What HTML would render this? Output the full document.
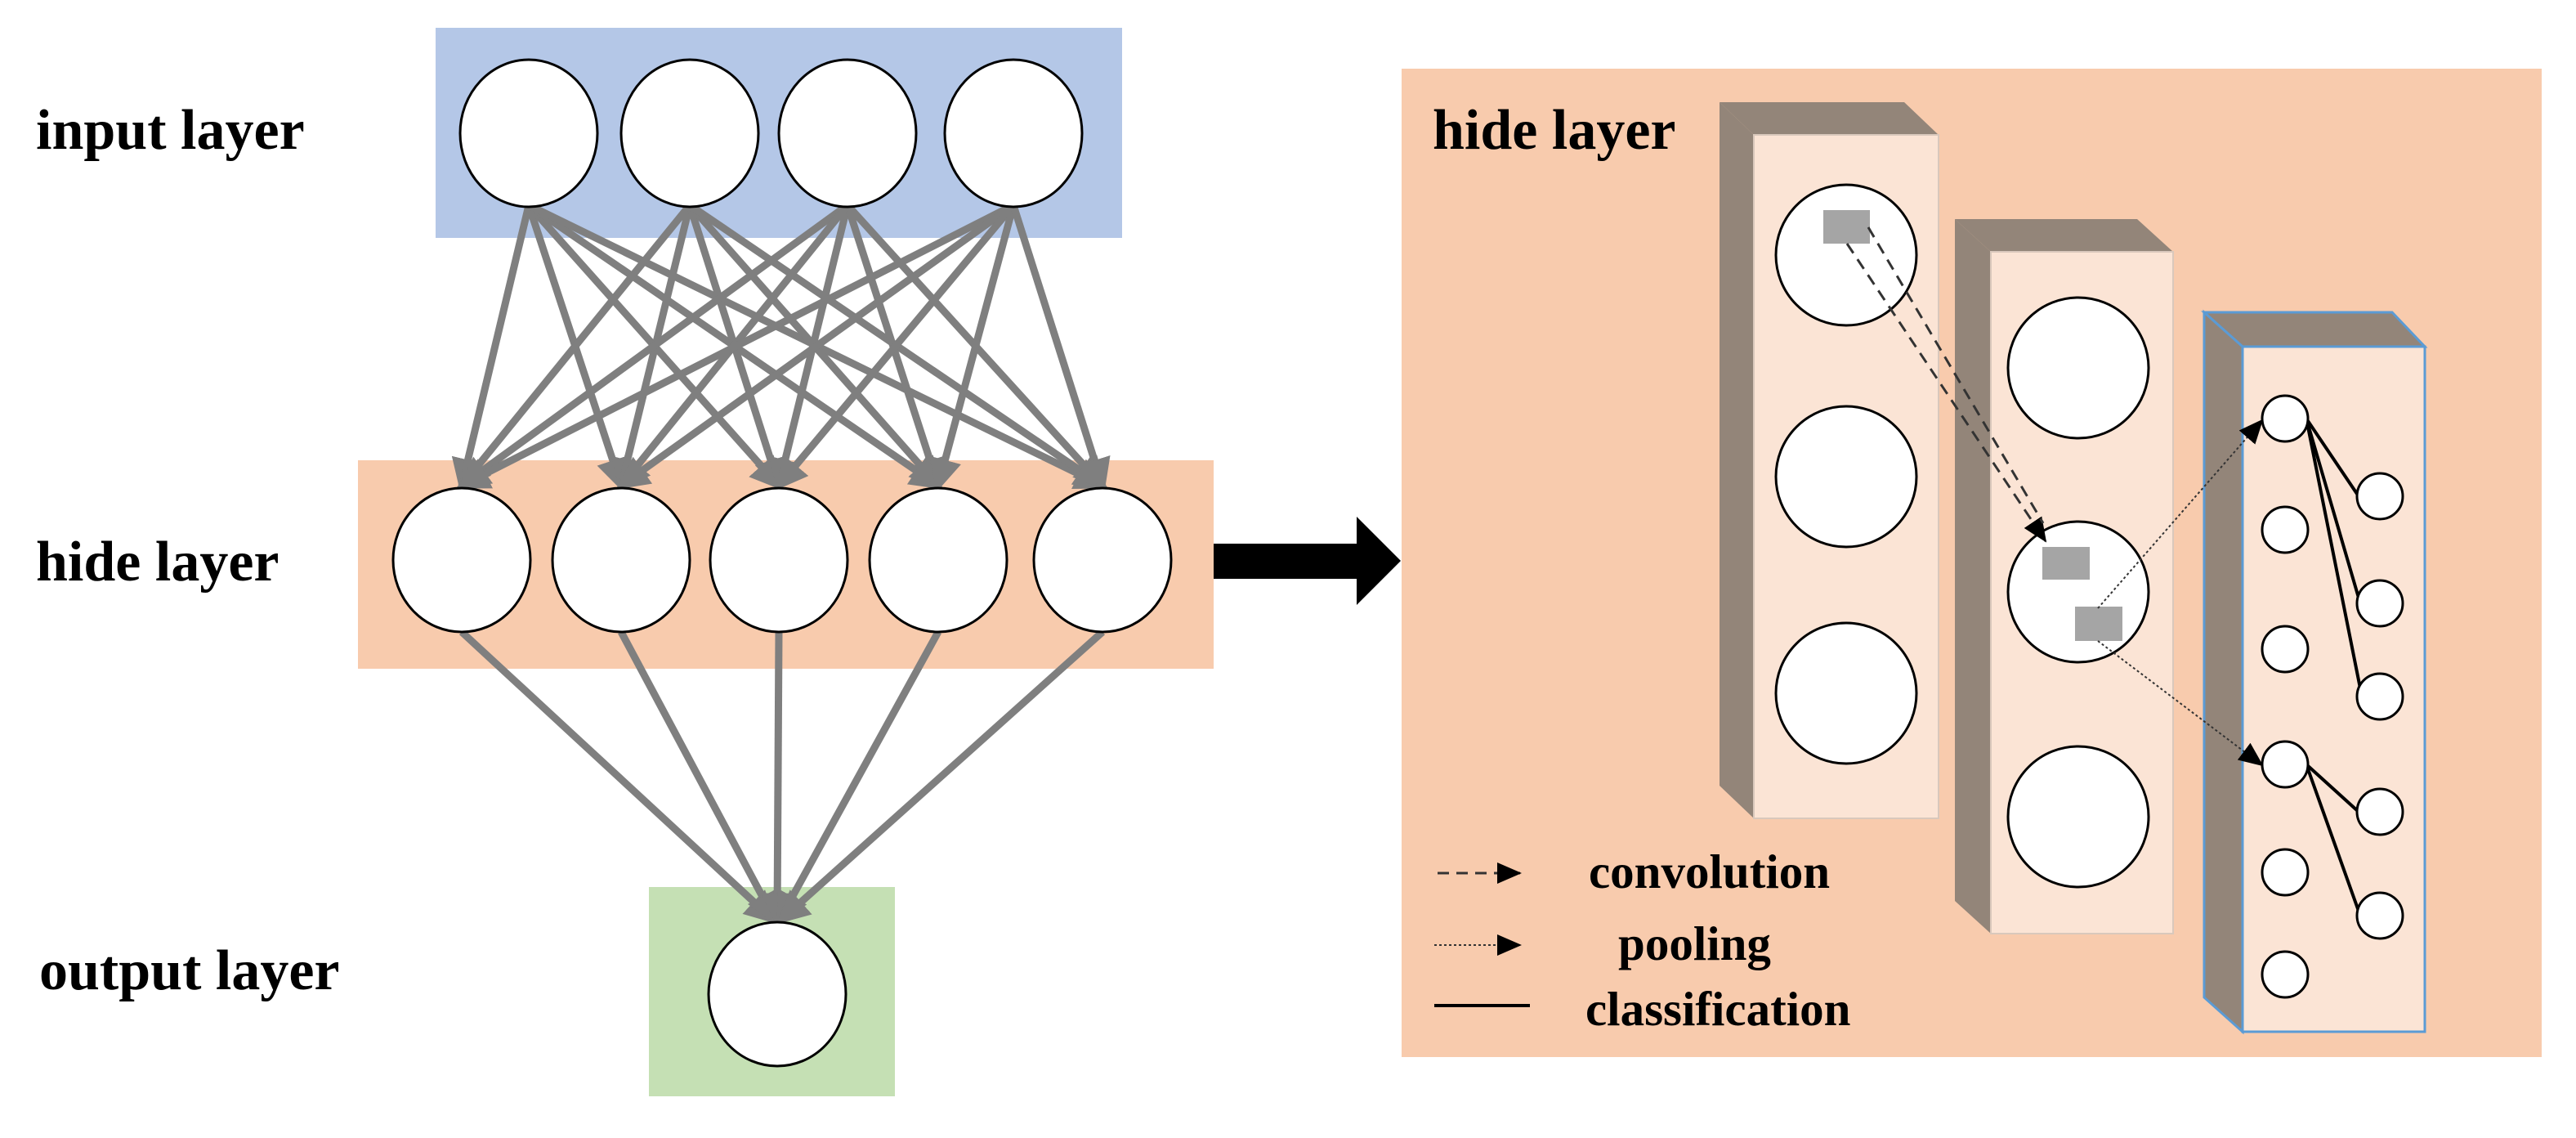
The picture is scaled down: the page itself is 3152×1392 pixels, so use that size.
<!DOCTYPE html>
<html><head><meta charset="utf-8"><style>
html,body{margin:0;padding:0;background:#fff}
svg{display:block}
text{font-family:"Liberation Serif",serif;font-weight:bold;fill:#000}
</style></head><body>
<svg width="3152" height="1392" viewBox="0 0 3152 1392" xmlns="http://www.w3.org/2000/svg">
<defs>
<marker id="ga" markerWidth="4.5" markerHeight="4.5" refX="3.6" refY="2.25" orient="auto" markerUnits="strokeWidth"><path d="M0,0 L4.5,2.25 L0,4.5 Z" fill="#7f7f7f"/></marker>
<marker id="bb" markerWidth="30" markerHeight="26" refX="28" refY="13" orient="auto" markerUnits="userSpaceOnUse"><path d="M0,0 L30,13 L0,26 Z" fill="#000"/></marker>
</defs>
<rect x="533" y="34" width="840" height="257" fill="#b4c7e7"/>
<rect x="438" y="563" width="1047" height="255" fill="#f8cbad"/>
<rect x="794" y="1085" width="301" height="256" fill="#c5e0b4"/>
<text x="44" y="182" font-size="70">input layer</text>
<text x="44" y="710" font-size="70">hide layer</text>
<text x="48" y="1210" font-size="70">output layer</text>
<g stroke="#7f7f7f" stroke-width="9" marker-end="url(#ga)" fill="none">
<line x1="647" y1="251" x2="565" y2="594"/><line x1="647" y1="251" x2="760" y2="594"/><line x1="647" y1="251" x2="953" y2="594"/><line x1="647" y1="251" x2="1148" y2="594"/><line x1="647" y1="251" x2="1349" y2="594"/>
<line x1="844" y1="251" x2="565" y2="594"/><line x1="844" y1="251" x2="760" y2="594"/><line x1="844" y1="251" x2="953" y2="594"/><line x1="844" y1="251" x2="1148" y2="594"/><line x1="844" y1="251" x2="1349" y2="594"/>
<line x1="1037" y1="251" x2="565" y2="594"/><line x1="1037" y1="251" x2="760" y2="594"/><line x1="1037" y1="251" x2="953" y2="594"/><line x1="1037" y1="251" x2="1148" y2="594"/><line x1="1037" y1="251" x2="1349" y2="594"/>
<line x1="1240" y1="251" x2="565" y2="594"/><line x1="1240" y1="251" x2="760" y2="594"/><line x1="1240" y1="251" x2="953" y2="594"/><line x1="1240" y1="251" x2="1148" y2="594"/><line x1="1240" y1="251" x2="1349" y2="594"/>
<line x1="565" y1="773" x2="946" y2="1125"/><line x1="760" y1="773" x2="948" y2="1125"/><line x1="953" y1="773" x2="951" y2="1125"/><line x1="1148" y1="773" x2="954" y2="1125"/><line x1="1349" y1="773" x2="956" y2="1125"/>
</g>
<g fill="#fff" stroke="#000" stroke-width="3">
<ellipse cx="647" cy="163" rx="84" ry="90"/><ellipse cx="844" cy="163" rx="84" ry="90"/><ellipse cx="1037" cy="163" rx="84" ry="90"/><ellipse cx="1240" cy="163" rx="84" ry="90"/>
<ellipse cx="565" cy="685" rx="84" ry="88"/><ellipse cx="760" cy="685" rx="84" ry="88"/><ellipse cx="953" cy="685" rx="84" ry="88"/><ellipse cx="1148" cy="685" rx="84" ry="88"/><ellipse cx="1349" cy="685" rx="84" ry="88"/>
<ellipse cx="951" cy="1216" rx="84" ry="88"/>
</g>
<path d="M1485,665 L1660,665 L1660,632 L1714,686 L1660,740 L1660,708 L1485,708 Z" fill="#000"/>
<rect x="1715" y="84" width="1395" height="1209" fill="#f8cbad"/>
<text x="1753" y="182" font-size="70">hide layer</text>
<polygon points="2104,125 2330,125 2372,165 2146,165" fill="#938579"/>
<polygon points="2104,125 2146,165 2146,1001 2104,961" fill="#938579"/>
<rect x="2146" y="165" width="226" height="836" fill="#fbe4d5" stroke="#d9c8bc" stroke-width="2"/>
<polygon points="2392,268 2615,268 2659,308 2436,308" fill="#938579"/>
<polygon points="2392,268 2436,308 2436,1142 2392,1102" fill="#938579"/>
<rect x="2436" y="308" width="223" height="834" fill="#fbe4d5" stroke="#d9c8bc" stroke-width="2"/>
<polygon points="2697,382 2927,382 2967,424 2744,424" fill="#938579" stroke="#5b9bd5" stroke-width="3"/>
<polygon points="2697,382 2744,424 2744,1262 2697,1220" fill="#938579" stroke="#5b9bd5" stroke-width="3"/>
<rect x="2744" y="424" width="223" height="838" fill="#fbe4d5" stroke="#5b9bd5" stroke-width="3"/>
<g fill="#fff" stroke="#000" stroke-width="3">
<ellipse cx="2259" cy="312" rx="86" ry="86"/><ellipse cx="2259" cy="583" rx="86" ry="86"/><ellipse cx="2259" cy="848" rx="86" ry="86"/>
<ellipse cx="2543" cy="450" rx="86" ry="86"/><ellipse cx="2543" cy="724" rx="86" ry="86"/><ellipse cx="2543" cy="999" rx="86" ry="86"/>
</g>
<rect x="2231" y="257" width="57" height="41" fill="#a5a5a5"/>
<rect x="2499" y="669" width="58" height="40" fill="#a5a5a5"/>
<rect x="2539" y="742" width="58" height="42" fill="#a5a5a5"/>
<g stroke="#333" stroke-width="3" stroke-dasharray="14,9" fill="none">
<line x1="2260" y1="298" x2="2503" y2="662" marker-end="url(#bb)"/>
<line x1="2286" y1="278" x2="2500" y2="640"/>
</g>
<g stroke="#333" stroke-width="2" stroke-dasharray="3,3" fill="none">
<line x1="2567" y1="744" x2="2768" y2="514" marker-end="url(#bb)"/>
<line x1="2567" y1="784" x2="2768" y2="936" marker-end="url(#bb)"/>
</g>
<g stroke="#000" stroke-width="4">
<line x1="2822" y1="512" x2="2886" y2="607"/><line x1="2822" y1="512" x2="2888" y2="738"/><line x1="2822" y1="512" x2="2890" y2="852"/>
<line x1="2822" y1="935" x2="2886" y2="993"/><line x1="2822" y1="935" x2="2888" y2="1120"/>
</g>
<g fill="#fff" stroke="#000" stroke-width="3">
<ellipse cx="2796" cy="512" rx="28" ry="28"/><ellipse cx="2796" cy="648" rx="28" ry="28"/><ellipse cx="2796" cy="794" rx="28" ry="28"/><ellipse cx="2796" cy="935" rx="28" ry="28"/><ellipse cx="2796" cy="1067" rx="28" ry="28"/><ellipse cx="2796" cy="1192" rx="28" ry="28"/>
<ellipse cx="2912" cy="607" rx="28" ry="28"/><ellipse cx="2912" cy="738" rx="28" ry="28"/><ellipse cx="2912" cy="852" rx="28" ry="28"/><ellipse cx="2912" cy="993" rx="28" ry="28"/><ellipse cx="2912" cy="1120" rx="28" ry="28"/>
</g>
<line x1="1759" y1="1068" x2="1860" y2="1068" stroke="#333" stroke-width="3" stroke-dasharray="14,9" marker-end="url(#bb)"/>
<line x1="1755" y1="1156" x2="1860" y2="1156" stroke="#333" stroke-width="2" stroke-dasharray="3,3" marker-end="url(#bb)"/>
<line x1="1755" y1="1230" x2="1872" y2="1230" stroke="#000" stroke-width="4"/>
<text x="1944" y="1086" font-size="59">convolution</text>
<text x="1980" y="1174" font-size="59">pooling</text>
<text x="1940" y="1254" font-size="59">classification</text>
</svg>
</body></html>
